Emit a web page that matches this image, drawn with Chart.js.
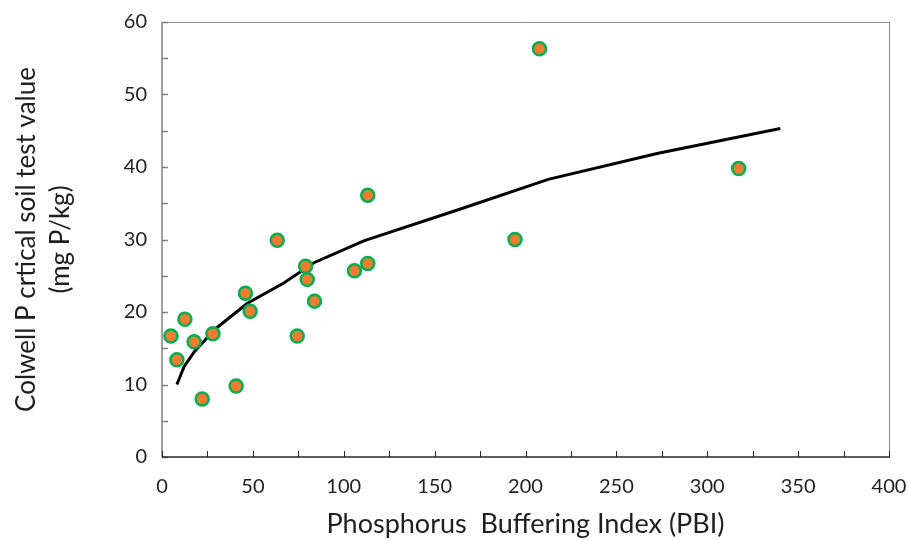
<!DOCTYPE html>
<html>
<head>
<meta charset="utf-8">
<script src="https://cdn.jsdelivr.net/npm/chart.js@4.4.1/dist/chart.umd.min.js"></script>
<style>
  html, body { margin: 0; padding: 0; background: #ffffff; }
  #wrap { width: 907px; height: 540px; }
</style>
</head>
<body>
<div id="wrap"><canvas id="c" width="907" height="540"></canvas></div>
<script>
// Observed data: PBI (x) and Colwell P critical soil test value (y)
const pbi = [4.9, 8.2, 12.6, 17.7, 22.1, 28.0, 40.8, 45.9, 48.5, 63.4, 74.4, 79.0, 79.9, 83.9, 105.9, 113.2, 113.2, 194.2, 207.7, 317.3];
const critP = [16.7, 13.4, 19.0, 15.9, 8.0, 17.0, 9.8, 22.6, 20.1, 29.9, 16.7, 26.3, 24.5, 21.5, 25.7, 36.1, 26.7, 30.0, 56.3, 39.8];

// Fitted curve
const curveX = [8.2, 12.2, 18, 24.7, 30.5, 47, 67, 83.6, 111, 163, 212.5, 273, 340.2];
const curveY = [10.0, 12.5, 14.6, 16.4, 17.9, 21.2, 24.0, 26.8, 29.8, 34.1, 38.3, 41.9, 45.3];

// Axes
const xMin = 0, xMax = 400, xStep = 25, xLabelStep = 50;
const yMin = 0, yMax = 60, yStep = 5, yLabelStep = 10;
const xTitle = 'Phosphorus  Buffering Index (PBI)';
const yTitle = ['Colwell P crtical soil test value', '(mg P/kg)'];

const scatterPts = pbi.map((x, i) => ({ x: x, y: critP[i] }));
const curvePts = curveX.map((x, i) => ({ x: x, y: curveY[i] }));

const FONT = 'Lato, "Open Sans", sans-serif';
const TXT = '#1f1f1f';

const framePlugin = {
  id: 'frame',
  beforeDatasetsDraw(chart) {
    const { ctx, chartArea: a, scales } = chart;
    ctx.save();
    ctx.strokeStyle = '#8c8c8c';
    ctx.lineWidth = 1;
    ctx.beginPath();
    ctx.moveTo(a.left, a.top + 0.5);
    ctx.lineTo(a.right + 0.5, a.top + 0.5);
    ctx.lineTo(a.right + 0.5, a.bottom);
    ctx.stroke();
    ctx.strokeStyle = '#7f7f7f';
    ctx.lineWidth = 1.5;
    ctx.beginPath();
    ctx.moveTo(a.left, a.top);
    ctx.lineTo(a.left, a.bottom);
    ctx.stroke();
    scales.y.ticks.forEach(t => {
      const py = Math.round(scales.y.getPixelForValue(t.value)) + 0.5;
      ctx.beginPath();
      ctx.moveTo(a.left, py);
      ctx.lineTo(a.left + 6, py);
      ctx.stroke();
    });
    ctx.strokeStyle = '#262626';
    ctx.lineWidth = 1.5;
    ctx.beginPath();
    ctx.moveTo(a.left, a.bottom);
    ctx.lineTo(a.right + 1, a.bottom);
    ctx.stroke();
    ctx.lineWidth = 1;
    scales.x.ticks.forEach(t => {
      const px = Math.round(scales.x.getPixelForValue(t.value)) + 0.5;
      ctx.beginPath();
      ctx.moveTo(px, a.bottom);
      ctx.lineTo(px, a.bottom - 6);
      ctx.stroke();
    });
    ctx.restore();
  }
};

new Chart(document.getElementById('c'), {
  type: 'scatter',
  data: {
    datasets: [
      {
        label: 'Observed',
        data: scatterPts,
        backgroundColor: '#ED7D31',
        borderColor: '#00B050',
        borderWidth: 2.5,
        pointRadius: 6.5,
        pointHoverRadius: 6.5
      },
      {
        label: 'Fit',
        type: 'line',
        data: curvePts,
        borderColor: '#000000',
        borderWidth: 3,
        pointRadius: 0,
        fill: false,
        tension: 0
      }
    ]
  },
  plugins: [framePlugin],
  options: {
    responsive: false,
    animation: false,
    events: [],
    layout: { padding: { left: 0, right: 18, top: 22, bottom: 0 } },
    plugins: { legend: { display: false }, tooltip: { enabled: false } },
    scales: {
      x: {
        type: 'linear',
        min: xMin, max: xMax,
        afterFit(s) { s.height = 83; s.paddingLeft = 0; s.paddingRight = 0; },
        border: { display: false },
        grid: { display: false, drawTicks: false },
        ticks: {
          stepSize: xStep,
          padding: 18,
          autoSkip: false,
          maxRotation: 0,
          color: TXT,
          font: { family: FONT, size: 20 },
          callback: v => (v % xLabelStep === 0 ? String(v) : '')
        },
        title: {
          display: true,
          text: xTitle,
          color: TXT,
          font: { family: FONT, size: 27 },
          padding: { top: 2, bottom: 0 }
        }
      },
      y: {
        type: 'linear',
        min: yMin, max: yMax,
        afterFit(s) { s.width = 162; s.paddingTop = 0; s.paddingBottom = 0; },
        border: { display: false },
        grid: { display: false, drawTicks: false },
        ticks: {
          stepSize: yStep,
          padding: 15,
          autoSkip: false,
          color: TXT,
          font: { family: FONT, size: 20 },
          callback: v => (v % yLabelStep === 0 ? String(v) : '')
        },
        title: {
          display: true,
          text: yTitle,
          color: TXT,
          font: { family: FONT, size: 26, lineHeight: 1.3 },
          padding: { top: 10, bottom: 0 }
        }
      }
    }
  }
});
</script>
</body>
</html>
